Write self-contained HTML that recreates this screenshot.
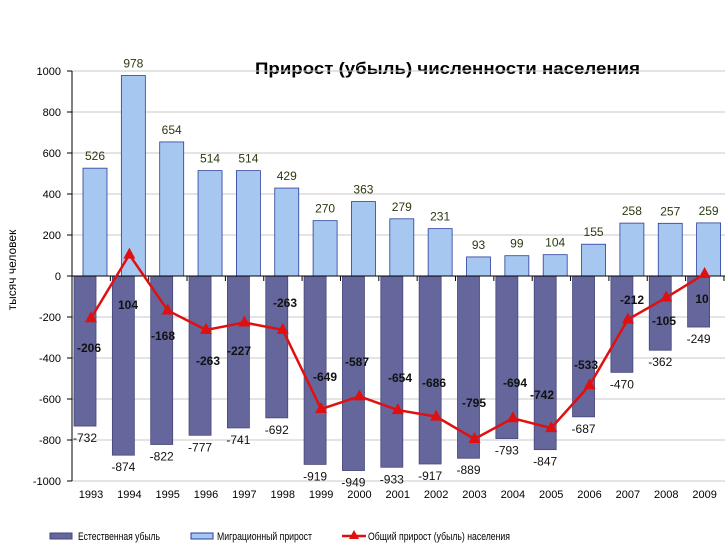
<!DOCTYPE html>
<html><head><meta charset="utf-8"><style>body{margin:0;background:#fff}svg{display:block}</style></head>
<body>
<svg id="c" width="725" height="558" xmlns="http://www.w3.org/2000/svg" font-family="Liberation Sans, sans-serif"></svg>
<script>
const s=document.getElementById('c');
const Y=v=>276-v*0.205;
let h='';
h+='<text x="255" y="74" textLength="385" lengthAdjust="spacingAndGlyphs" font-size="17" font-weight="bold" fill="#000">Прирост (убыль) численности населения</text>';
for(let v=-1000;v<=1000;v+=200){
 if(v!==0)h+=`<line x1="72" x2="725" y1="${Y(v)}" y2="${Y(v)}" stroke="#c8c8c8" stroke-width="1"/>`;
 h+=`<line x1="67" x2="72" y1="${Y(v)}" y2="${Y(v)}" stroke="#000"/>`;
 h+=`<text x="61" y="${Y(v)+4}" text-anchor="end" font-size="11" fill="#000">${v}</text>`;
}
h+='<text transform="translate(16,270) rotate(-90)" text-anchor="middle" font-size="12" fill="#000">тысяч человек</text>';
const nat=[-732,-874,-822,-777,-741,-692,-919,-949,-933,-917,-889,-793,-847,-687,-470,-362,-249];
const mig=[526,978,654,514,514,429,270,363,279,231,93,99,104,155,258,257,259];
const tot=[-206,104,-168,-263,-227,-263,-649,-587,-654,-686,-795,-694,-742,-533,-212,-105,10];
const tl=[[89,348],[128,305],[163,336],[208,361],[239,351],[285,303],[325,377],[357,362],[400,378],[434,383],[474,403],[515,383],[542,395],[586,365],[632,300],[664,321],[702,299]];
const W=38.35;
let pts=[];
for(let i=0;i<17;i++){
 const c=91+W*i;
 h+=`<rect x="${c-17}" y="276" width="22" height="${-nat[i]*0.205}" fill="#65669c" stroke="#45467a" stroke-width="0.8"/>`;
 h+=`<rect x="${c-8}" y="${Y(mig[i])}" width="24" height="${mig[i]*0.205}" fill="#a6c8f0" stroke="#2a3c9c" stroke-width="0.8"/>`;
 h+=`<text x="${c-6}" y="${Y(nat[i])+16}" text-anchor="middle" font-size="12" fill="#111">${nat[i]}</text>`;
 h+=`<text x="${c+4}" y="${Y(mig[i])-8}" text-anchor="middle" font-size="12" fill="#2a3a10">${mig[i]}</text>`;
 h+=`<text x="${c}" y="498" text-anchor="middle" font-size="11" fill="#000">${1993+i}</text>`;
 h+=`<line x1="${72+W*(i+1)}" x2="${72+W*(i+1)}" y1="276" y2="281" stroke="#000"/>`;
 pts.push([c,Y(tot[i])]);
}
h+='<line x1="72" x2="725" y1="276" y2="276" stroke="#000"/><line x1="72" x2="72" y1="71" y2="481" stroke="#000"/>';
h+=`<polyline points="${pts.map(p=>p.join(',')).join(' ')}" fill="none" stroke="#e01010" stroke-width="2.5"/>`;
pts.forEach(p=>h+=`<polygon points="${p[0]},${p[1]-7} ${p[0]-6},${p[1]+4} ${p[0]+6},${p[1]+4}" fill="#e01010"/>`);
tl.forEach((p,i)=>h+=`<text x="${p[0]}" y="${p[1]+4}" text-anchor="middle" font-size="12" font-weight="bold" fill="#111">${tot[i]}</text>`);
h+='<rect x="50" y="533" width="22" height="6" fill="#65669c" stroke="#45467a"/><text x="78" y="540" font-size="11" textLength="82" lengthAdjust="spacingAndGlyphs">Естественная убыль</text>';
h+='<rect x="191" y="533" width="22" height="6" fill="#a6c8f0" stroke="#2a3c9c"/><text x="217" y="540" font-size="11" textLength="95" lengthAdjust="spacingAndGlyphs">Миграционный прирост</text>';
h+='<line x1="342" x2="366" y1="536" y2="536" stroke="#e01010" stroke-width="2.5"/><polygon points="354,530 349,539 359,539" fill="#e01010"/><text x="368" y="540" font-size="11" textLength="142" lengthAdjust="spacingAndGlyphs">Общий прирост (убыль) населения</text>';
s.innerHTML=h;
</script>
</body></html>
